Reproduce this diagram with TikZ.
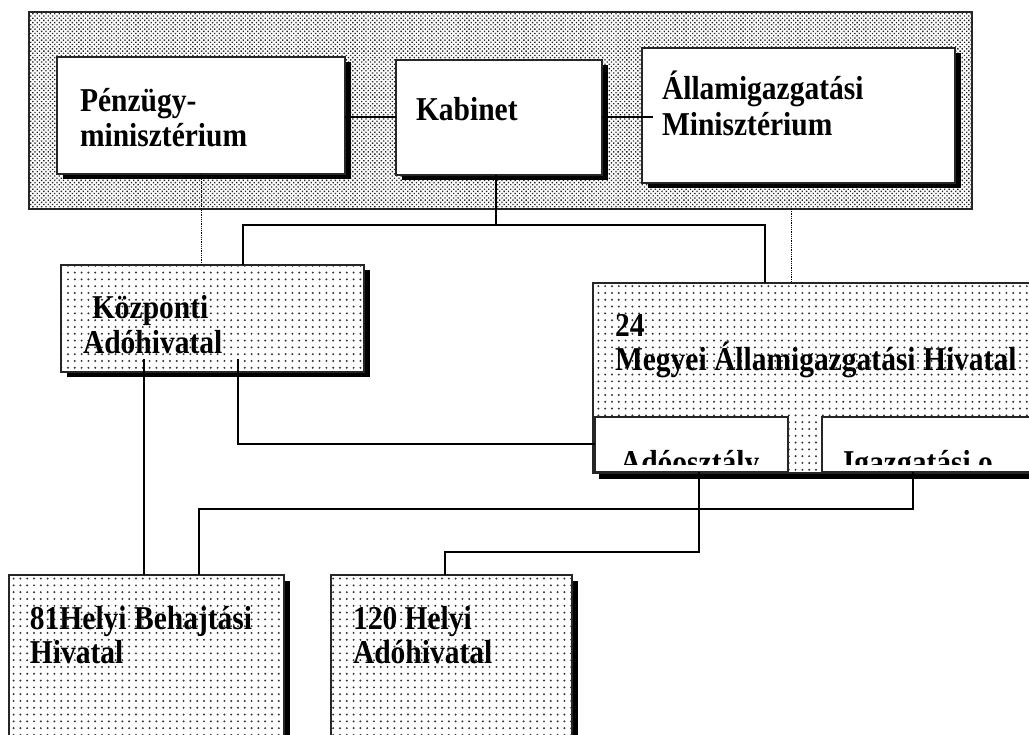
\documentclass[tikz,border=0pt]{standalone}
\usepackage{graphicx}
\usepackage{fontspec}
\setmainfont{Liberation Serif}
\usetikzlibrary{patterns.meta,shadows}

% labels are set slightly taller than the font's natural height
\newcommand{\tallbf}[1]{\scalebox{1}[1.13]{#1}}

\begin{document}
\begin{tikzpicture}[x=1pt,y=-1pt,
  every node/.style={inner sep=0pt, outer sep=0pt},
  boxframe/.style={rectangle, draw=black!85, line width=1.6pt, anchor=north west},
  shadowed/.style={drop shadow={shadow xshift=5.5pt, shadow yshift=-5.5pt, fill=black, opacity=1}},
  whitebox/.style={boxframe, shadowed, fill=white},
  densedots/.style={boxframe, preaction={fill=white},
    pattern={Dots[distance=3.1pt, angle=45, radius=0.95pt]}, pattern color=black!85},
  sparsedots/.style={boxframe, shadowed, preaction={fill=white},
    pattern={Dots[distance=6.8pt, radius=1.1pt]}, pattern color=black!80},
  label/.style={anchor=base west, font=\fontsize{29.5}{34}\selectfont\bfseries},
  conn/.style={draw=black, line width=2pt},
  dotconn/.style={draw=black, line width=0.8pt, densely dotted}
]
\useasboundingbox (0,0) rectangle (1029,735);
\fill[white] (0,0) rectangle (1029,735);
\clip (0,0) rectangle (1029,735);

% government level
\node[densedots, minimum width=943pt, minimum height=197pt] (panel) at (29,12) {};
\node[whitebox, minimum width=288pt, minimum height=117pt] (pm) at (57,57) {};
\node[whitebox, minimum width=206pt, minimum height=115pt] (kab) at (396,60) {};
\node[whitebox, minimum width=313pt, minimum height=135pt] (allam) at (642,48) {};

\node[label] (pm1) at (80,112) {\tallbf{Pénzügy-}};
\node[label] (pm2) at (80,147) {\tallbf{minisztérium}};
\node[label] (kab1) at (416,121) {\tallbf{Kabinet}};
\node[label] (al1) at (662,100) {\tallbf{Államigazgatási}};
\node[label] (al2) at (662,136) {\tallbf{Minisztérium}};

% central and county offices
\node[sparsedots, minimum width=303pt, minimum height=107pt] (kozp) at (61,265) {};
\node[label] (kz1) at (92,319) {\tallbf{Központi}};
\node[label] (kz2) at (83,354) {\tallbf{Adóhivatal}};

\node[sparsedots, minimum width=470pt, minimum height=190pt] (megyei) at (593,283) {};
\node[label] (mg1) at (615,337) {\tallbf{24}};
\node[label] (mg2) at (615,371) {\tallbf{Megyei Államigazgatási Hivatal}};

\node[boxframe, fill=white, minimum width=193pt, minimum height=55pt] (ado) at (595,417) {};
\node[boxframe, fill=white, minimum width=240pt, minimum height=55pt] (igaz) at (822,417) {};
\begin{scope}
  \clip (595,417) rectangle (1029,464);
  \node[label] (ad1) at (620,473) {\tallbf{Adóosztály}};
  \node[label] (ig1) at (843,473) {\tallbf{Igazgatási o}};
\end{scope}

% local offices
\node[sparsedots, minimum width=275pt, minimum height=200pt] (h81) at (9,575) {};
\node[label] (h81a) at (30,629) {\tallbf{81Helyi Behajtási}};
\node[label] (h81b) at (30,663) {\tallbf{Hivatal}};
\node[sparsedots, minimum width=241pt, minimum height=200pt] (h120) at (331,575) {};
\node[label] (h120a) at (353,629) {\tallbf{120 Helyi}};
\node[label] (h120b) at (353,663) {\tallbf{Adóhivatal}};

% bend points
\coordinate (b1) at (243,225);
\coordinate (b2) at (765,225);
\coordinate (adot) at (791,0);
\coordinate (k1) at (144,359);
\coordinate (k2) at (238,359);
\coordinate (a1) at (699,478);
\coordinate (a2) at (445,552);
\coordinate (g1) at (913,509);
\coordinate (g2) at (199,509);

% connectors
\draw[conn] (pm.east |- kab.west) -- (kab.west);
\draw[conn] (kab.east) -- ([xshift=11pt]allam.west |- kab.east);
\draw[dotconn] (pm.south) -- (pm.south |- kozp.north);
\draw[dotconn] (panel.south -| adot) -- (megyei.north -| adot);
\draw[conn] ([xshift=-3pt]kab.south) -- ([xshift=-3pt]kab.south |- b1);
\draw[conn] (kozp.north -| b1) -- (b1) -- (b2) -- (megyei.north -| b2);
\draw[conn] (k1) -- (h81.north -| k1);
\draw[conn] (k2) -- (k2 |- ado.west) -- (ado.west);
\draw[conn] (ado.south -| a1) -- (a1 |- a2) -- (a2) -- (h120.north -| a2);
\draw[conn] (igaz.south -| g1) -- (g1) -- (g2) -- (h81.north -| g2);
\end{tikzpicture}
\end{document}
